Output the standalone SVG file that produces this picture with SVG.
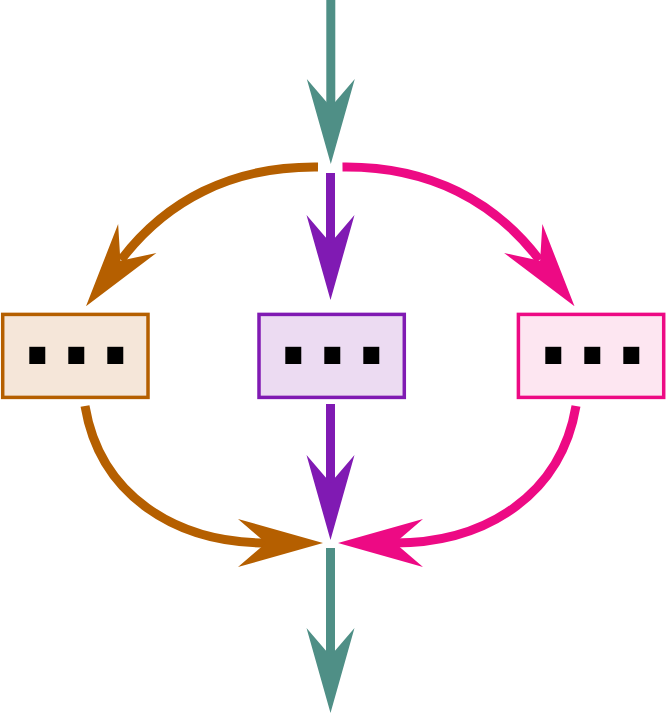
<svg xmlns="http://www.w3.org/2000/svg" xmlns:xlink="http://www.w3.org/1999/xlink" width="666" height="714" viewBox="0 0 666 714">
<style>
.box{stroke-width:3.5}
.dots{font-family:"DejaVu Sans",sans-serif;font-weight:bold;font-size:91px;fill:#000;text-anchor:middle}
.ln{fill:none;stroke-width:9;stroke-linecap:butt}
.teal{stroke:#4f8f86}.tealf{fill:#4f8f86}
.orange{stroke:#b55f00}.orangef{fill:#b55f00}
.purple{stroke:#801ab3}.purplef{fill:#801ab3}
.pink{stroke:#ed0a84}.pinkf{fill:#ed0a84}
</style>
<defs>
<path id="ah" d="M0,0 L-85,-24 L-57,0 L-85,24 Z"/>
</defs>
<g id="connectors">
<line class="ln teal" x1="330.8" y1="0" x2="330.8" y2="108"/>
<use xlink:href="#ah" class="tealf" transform="translate(330.8,164) rotate(90)"/>
<path class="ln orange" d="M318,167 C230,166 165,202 121,260"/>
<use xlink:href="#ah" class="orangef" transform="translate(86,306.3) rotate(127.1)"/>
<path class="ln pink" d="M342.5,167 C430.5,166 495.5,202 539.5,260"/>
<use xlink:href="#ah" class="pinkf" transform="translate(574.5,306.3) rotate(52.9)"/>
<line class="ln purple" x1="330.5" y1="173" x2="330.5" y2="244"/>
<use xlink:href="#ah" class="purplef" transform="translate(330.5,300) rotate(90)"/>
<line class="ln purple" x1="330.5" y1="404" x2="330.5" y2="484"/>
<use xlink:href="#ah" class="purplef" transform="translate(330.5,540) rotate(90)"/>
<path class="ln orange" d="M85,406 C100,495 175,543 267,543"/>
<use xlink:href="#ah" class="orangef" transform="translate(323,543) rotate(0)"/>
<path class="ln pink" d="M576,406 C561,495 486,543 394,543"/>
<use xlink:href="#ah" class="pinkf" transform="translate(338,543) rotate(180)"/>
<line class="ln teal" x1="330.5" y1="548" x2="330.5" y2="657"/>
<use xlink:href="#ah" class="tealf" transform="translate(330.5,713) rotate(90)"/>
</g>
<g id="node-left">
<rect class="box" x="2.7" y="314.4" width="145.3" height="83" fill="#f5e6d9" stroke="#b55f00"/>
<text class="dots" x="37.2 76.2 115.2" y="364">...</text>
</g>
<g id="node-middle">
<rect class="box" x="259" y="314.4" width="145.3" height="83" fill="#ecdbf2" stroke="#801ab3"/>
<text class="dots" x="293.2 332.2 371.2" y="364">...</text>
</g>
<g id="node-right">
<rect class="box" x="518.4" y="314.4" width="145.3" height="83" fill="#fde6f1" stroke="#ed0a84"/>
<text class="dots" x="553.2 592.2 631.2" y="364">...</text>
</g>
</svg>
